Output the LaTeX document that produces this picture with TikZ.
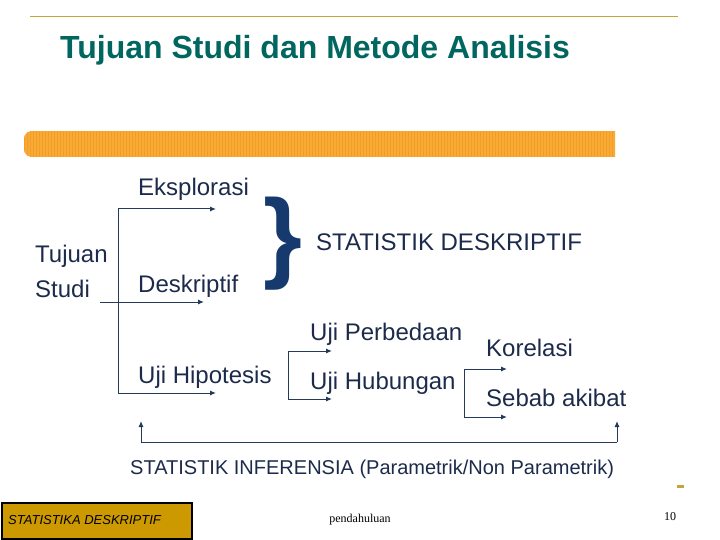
\documentclass[tikz,border=0pt]{standalone}
\usepackage{fontspec}
\setmainfont{Liberation Sans}
\newfontfamily\footserif{Liberation Serif}
\usetikzlibrary{arrows.meta}
\definecolor{navy}{HTML}{1C2B4B}
\definecolor{linenavy}{HTML}{243A58}
\definecolor{bracenavy}{HTML}{173A6E}
\definecolor{titleteal}{HTML}{00665F}
\definecolor{rulegold}{HTML}{C9A23A}
\definecolor{barorange}{HTML}{F8AA35}
\definecolor{gridorange}{HTML}{F09E25}
\definecolor{boxgold}{HTML}{CC9900}
\tikzstyle{txt} = [anchor=base west, inner sep=0pt, text=navy, font=\fontsize{24}{28}\selectfont]
\tikzstyle{smalltxt} = [txt, font=\fontsize{20}{24}\selectfont]
\tikzstyle{conn} = [draw=linenavy, line width=1pt]
\tikzstyle{arr} = [conn, -{Latex[length=6pt, width=5pt]}]

\begin{document}
\begin{tikzpicture}[x=1pt, y=-1pt]
    \useasboundingbox (0,0) rectangle (720,540);
    % Top rule and title.
    \draw [rulegold, line width=1pt] (30,17) -- (678,17);
    \node [anchor=base west, inner sep=0pt, text=titleteal, font=\fontsize{32}{36}\selectfont\bfseries] (title) at (60,59) {Tujuan Studi dan Metode Analisis};
    % Orange bar.
    \begin{scope}
      \clip [rounded corners=8pt] (24,131) rectangle (640,157) (300,131) rectangle (615,157);
      \clip (0,131) rectangle (615,157);
      \fill [barorange] (0,131) rectangle (615,157);
      \draw [gridorange, line width=0.3pt, step=3] (0,131) grid (615,157);
    \end{scope}
    % Purposes of study.
    \node [txt] (tuj) at (35,262) {Tujuan};
    \node [txt] (stu) at (35,297) {Studi};
    \node [txt] (eks) at (138,196) {Eksplorasi};
    \node [txt] (des) at (138,292) {Deskriptif};
    \node [txt] (hip) at (138,383) {Uji Hipotesis};
    \coordinate (spT) at (118,209);
    \coordinate (spB) at (118,393);
    \coordinate (eksEnd) at (216,209);
    \coordinate (desStart) at (100,302);
    \coordinate (desEnd) at (204,302);
    \coordinate (hipEnd) at (216,393);
    \draw [conn] (spT) -- (spB);
    \draw [arr] (spT) -- (eksEnd);
    \draw [arr] (desStart) -- (desEnd);
    \draw [arr] (spB) -- (hipEnd);
    % Descriptive statistics.
    \node [inner sep=0pt, text=bracenavy, font=\fontsize{100}{100}\selectfont\bfseries] (brc) at (283,244) {\}};
    \node [txt] (desk) at (316,251) {STATISTIK DESKRIPTIF};
    % Hypothesis tests.
    \node [txt] (perb) at (310,340) {Uji Perbedaan};
    \node [txt] (hub) at (310,389) {Uji Hubungan};
    \coordinate (hpT) at (288,351);
    \coordinate (hpB) at (288,399);
    \coordinate (perbEnd) at (332,351);
    \coordinate (hubEnd) at (332,399);
    \draw [conn] (hpT) -- (hpB);
    \draw [arr] (hpT) -- (perbEnd);
    \draw [arr] (hpB) -- (hubEnd);
    % Relationship tests.
    \node [txt] (kor) at (486,356) {Korelasi};
    \node [txt] (seb) at (486,406) {Sebab akibat};
    \coordinate (hbT) at (464,369);
    \coordinate (hbB) at (464,417);
    \coordinate (korEnd) at (507,369);
    \coordinate (sebEnd) at (507,417);
    \draw [conn] (hbT) -- (hbB);
    \draw [arr] (hbT) -- (korEnd);
    \draw [arr] (hbB) -- (sebEnd);
    % Inferential statistics.
    \coordinate (infL) at (141,442);
    \coordinate (infR) at (617,442);
    \coordinate (infLtop) at (141,421);
    \coordinate (infRtop) at (617,421);
    \draw [conn] (infL) -- (infR);
    \draw [arr] (infL) -- (infLtop);
    \draw [arr] (infR) -- (infRtop);
    \node [smalltxt] (inf) at (130,474) {STATISTIK INFERENSIA (Parametrik/Non Parametrik)};
    % Footer.
    \draw [fill=boxgold, line width=1.5pt] (2,503) rectangle (192,539);
    \node [anchor=base west, inner sep=0pt, font=\itshape\fontsize{13}{15}\selectfont] (foot) at (8,524) {STATISTIKA DESKRIPTIF};
    \node [anchor=base, inner sep=0pt, font=\footserif\fontsize{12}{14}\selectfont] (page) at (360,522) {pendahuluan};
    \node [anchor=base, inner sep=0pt, font=\footserif\fontsize{12}{14}\selectfont] (num) at (670,520) {10};
    \fill [rulegold] (677,485) rectangle (684,488);
\end{tikzpicture}
\end{document}
